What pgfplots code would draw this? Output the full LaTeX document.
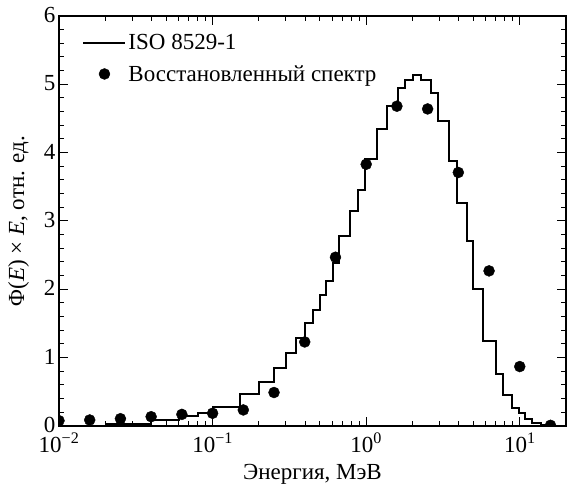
\documentclass[border=0pt]{standalone}
\usepackage{fontspec}
\setmainfont{Liberation Serif}
\usepackage{pgfplots}
\pgfplotsset{compat=1.18}
\pgfplotsset{
    linelegend/.style={legend image code/.code={\draw[##1] (0pt,0pt) -- (42pt,0pt);}},
    dotlegend/.style={legend image code/.code={\draw[##1] plot coordinates {(21pt,0pt)};}},
}

\begin{document}
\begin{tikzpicture}[font=\fontsize{23}{27}\selectfont]
\begin{axis}[
    scale only axis,
    width=507pt,
    height=410pt,
    xmode=log,
    xmin=0.01, xmax=20,
    ymin=0, ymax=6,
    xtick={0.01,0.1,1,10},
    xticklabels={10\textsuperscript{−2},10\textsuperscript{−1},10\textsuperscript{0},10\textsuperscript{1}},
    xticklabel style={yshift=-3pt},
    ytick={0,1,2,3,4,5,6},
    yticklabel style={yshift=1pt},
    minor y tick num=4,
    /pgf/number format/assume math mode=true,
    tick align=inside,
    major tick length=9pt,
    minor tick length=5pt,
    every tick/.style={black, line width=1pt},
    axis line style={line width=1.6pt},
    xlabel={Энергия, МэВ},
    ylabel={Φ(\textit{E}) × \textit{E}, отн. ед.},
    xlabel style={yshift=-5pt},
    ylabel style={yshift=8pt},
    clip marker paths=true,
    legend cell align=left,
    legend style={draw=none, fill=none, at={(0.04,0.965)}, anchor=north west,
        row sep=10pt, font=\fontsize{23}{27}\selectfont},
]
\addplot[const plot, black, line width=2pt, linelegend] coordinates {
    (0.02,0.03) (0.04,0.09) (0.06,0.14) (0.08,0.195) (0.1,0.28)
    (0.15,0.47) (0.2,0.65) (0.25,0.85) (0.3,1.07) (0.35,1.29)
    (0.4,1.50) (0.45,1.70) (0.5,1.92) (0.55,2.12) (0.605,2.39)
    (0.67,2.78) (0.785,3.14) (0.89,3.46) (0.977,3.90) (1.18,4.35)
    (1.37,4.68) (1.62,4.95) (1.79,5.06) (2.03,5.14) (2.28,5.07)
    (2.63,4.88) (2.93,4.46) (3.46,3.88) (3.92,3.26) (4.55,2.70)
    (4.95,2.00) (5.8,1.25) (7.03,0.76) (7.81,0.45) (8.93,0.27)
    (9.88,0.19) (10.8,0.10) (11.96,0.05) (13.7,0.015) (16.6,0)
};
\addlegendentry{ISO 8529-1}
\addplot[only marks, mark=*, black, mark size=5.5pt, dotlegend] coordinates {
    (0.01,0.078) (0.01585,0.088) (0.02512,0.107) (0.03981,0.136)
    (0.0631,0.17) (0.1,0.186) (0.1585,0.235) (0.2512,0.49)
    (0.3981,1.23) (0.631,2.47) (1.0,3.83) (1.585,4.68)
    (2.512,4.64) (3.981,3.71) (6.31,2.27) (10,0.87) (15.85,0.01)
};
\addlegendentry{Восстановленный спектр}
\end{axis}
\pgfresetboundingbox
\path (current axis.south west) ++(-59pt,-60pt) rectangle ++(567pt,486pt);
\end{tikzpicture}
\end{document}
